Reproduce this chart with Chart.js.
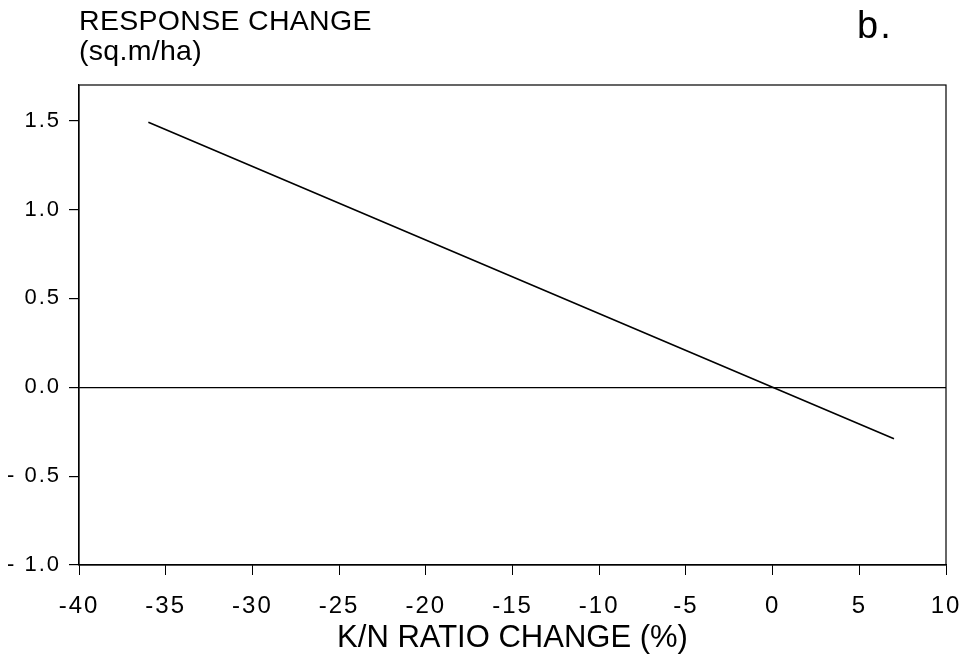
<!DOCTYPE html>
<html>
<head>
<meta charset="utf-8">
<script src="https://cdn.jsdelivr.net/npm/chart.js@4.4.1/dist/chart.umd.min.js"></script>
<style>
    html, body { margin: 0; padding: 0; background: #fff; }
    #wrap { position: relative; width: 967px; height: 658px; }
    .lbl { position: absolute; font-family: "Liberation Sans", Arial, sans-serif; color: #000; white-space: nowrap; }
</style>
</head>
<body>
<div id="wrap">
    <canvas id="lineChart" width="967" height="658"></canvas>
    <div class="lbl" style="left:79px; top:5px; font-size:28.5px; line-height:30px; letter-spacing:0.3px;">RESPONSE CHANGE<br>(sq.m/ha)</div>
    <div class="lbl" style="left:857px; top:6px; font-size:38px; line-height:38px; letter-spacing:2px;">b.</div>
    <div class="lbl" style="left:79px; width:867px; text-align:center; top:621px; font-size:31px; line-height:31px;">K/N RATIO CHANGE (%)</div>
</div>
<script>
    // values
    const kRatioChange = [-36, 0, 7];
    const responseChange = [1.49, 0, -0.29];
    const xTicks = [-40, -35, -30, -25, -20, -15, -10, -5, 0, 5, 10];
    const yTicks = [-1.0, -0.5, 0.0, 0.5, 1.0, 1.5];

    // the original labels are set wide
    const spacing = {
        id: "spacing",
        beforeUpdate(chart) { chart.ctx.letterSpacing = "2px"; },
        beforeDraw(chart) { chart.ctx.letterSpacing = "2px"; },
    };

    const frame = {
        id: "frame",
        afterDraw(chart) {
            const a = chart.chartArea;
            const ctx = chart.ctx;
            ctx.save();
            ctx.strokeStyle = "#000";
            ctx.lineWidth = 1.2;
            ctx.strokeRect(a.left, a.top, a.right - a.left, a.bottom - a.top);
            ctx.restore();
        },
    };

    new Chart(document.getElementById("lineChart"), {
        type: "line",
        data: {
            datasets: [
                {
                    data: kRatioChange.map((x, i) => ({ x: x, y: responseChange[i] })),
                    borderColor: "#000",
                    borderWidth: 1.6,
                    pointRadius: 0,
                    fill: false,
                    tension: 0,
                },
            ],
        },
        options: {
            responsive: false,
            animation: false,
            layout: { padding: { top: 85, right: 21, left: 0, bottom: 0 } },
            plugins: { legend: { display: false }, tooltip: { enabled: false } },
            scales: {
                x: {
                    type: "linear",
                    min: -40,
                    max: 10,
                    afterBuildTicks: (s) => { s.ticks = xTicks.map((v) => ({ value: v })); },
                    afterFit: (s) => {
                        s.height = 93;
                        s.paddingLeft = 0;
                        s.paddingRight = 0;
                    },
                    grid: { color: "transparent", tickColor: "#000", tickLength: 10, drawOnChartArea: false },
                    border: { display: true, color: "#000", width: 1.2 },
                    ticks: {
                        color: "#000",
                        padding: 17,
                        maxRotation: 0,
                        font: { family: "'Liberation Sans', Arial", size: 24 },
                        callback: (v) => String(v),
                    },
                },
                y: {
                    type: "linear",
                    min: -1.0,
                    max: 1.7,
                    afterBuildTicks: (s) => { s.ticks = yTicks.map((v) => ({ value: v })); },
                    afterFit: (s) => {
                        s.width = 79;
                        s.paddingTop = 0;
                        s.paddingBottom = 0;
                    },
                    grid: {
                        color: (c) => (c.tick && c.tick.value === 0 ? "#000" : "transparent"),
                        lineWidth: 1.2,
                        tickColor: "#000",
                        tickLength: 10,
                    },
                    border: { display: true, color: "#000", width: 1.2 },
                    ticks: {
                        color: "#000",
                        padding: 8,
                        font: { family: "'Liberation Sans', Arial", size: 22 },
                        callback: (v) => (v < 0 ? "- " + Math.abs(v).toFixed(1) : v.toFixed(1)),
                    },
                },
            },
        },
        plugins: [spacing, frame],
    });
</script>
</body>
</html>
